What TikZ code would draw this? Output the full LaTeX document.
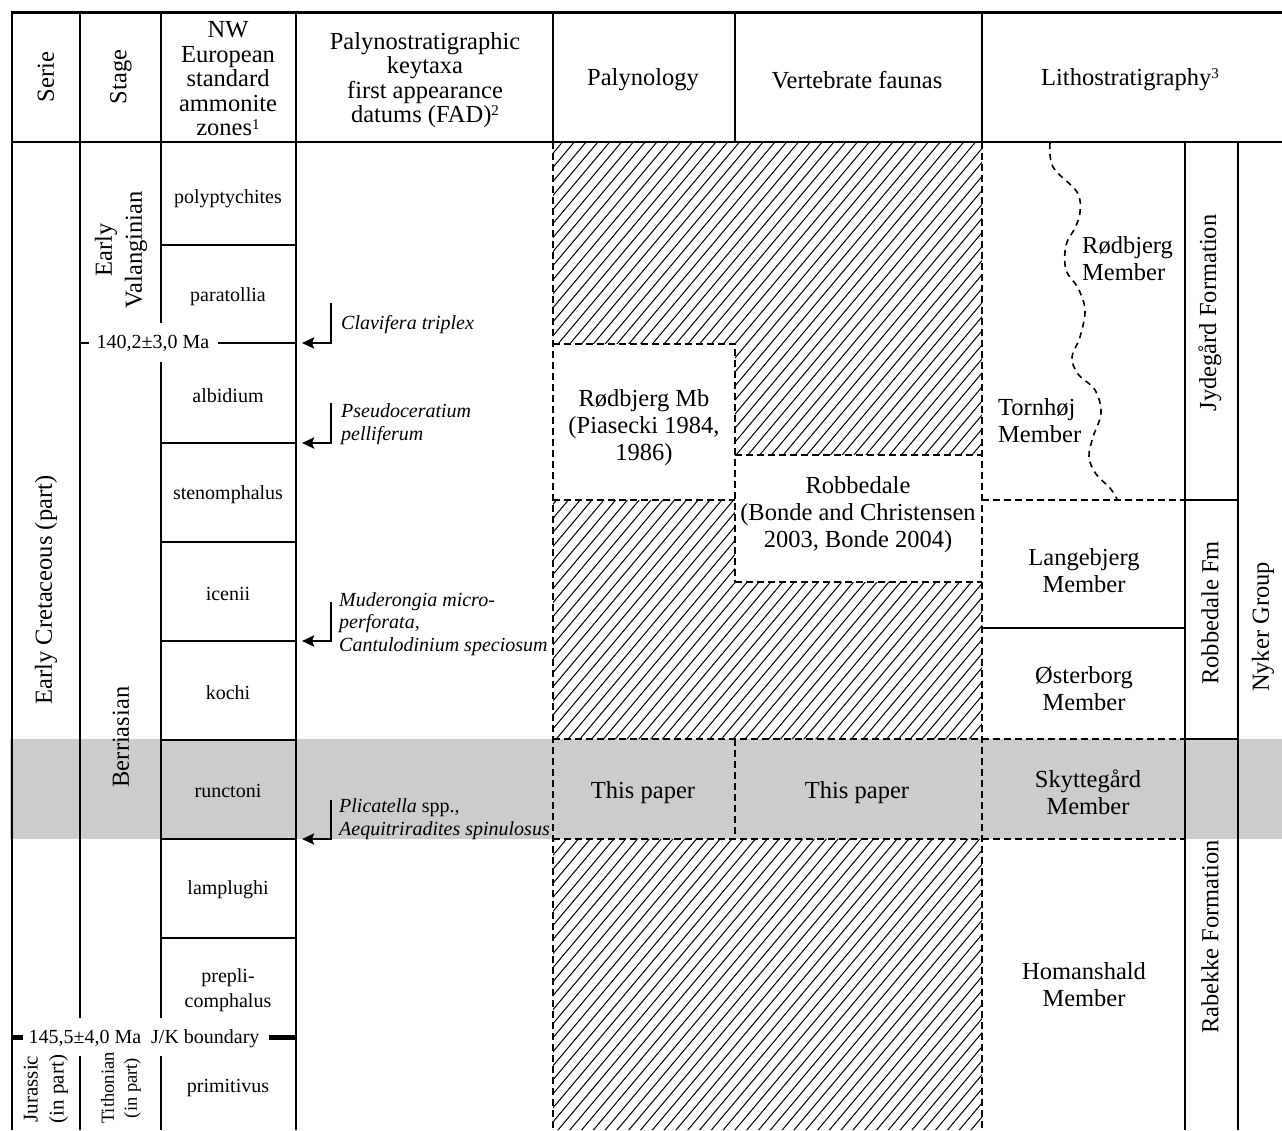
\documentclass[tikz,border=0pt]{standalone}
\usepackage{fontspec}
\setmainfont{Liberation Serif}
\usetikzlibrary{arrows.meta}
\definecolor{bandgray}{RGB}{204,204,204}
\newcommand{\lowsup}[1]{\raisebox{0.28em}{\fontsize{15}{15}\selectfont #1}}
\begin{document}
\begin{tikzpicture}[x=1pt,y=-1pt,
  hdr/.style={font=\fontsize{24.5}{24.5}\selectfont, align=center, inner sep=0pt},
  body/.style={font=\fontsize{24.5}{27}\selectfont, align=center, inner sep=0pt},
  zone/.style={font=\fontsize{20}{24.5}\selectfont, align=center, inner sep=0pt},
  fad/.style={font=\fontsize{20}{22.5}\selectfont\itshape, align=left, anchor=west, inner sep=0pt},
  topline/.style={line width=3pt},
  frameline/.style={line width=2.6pt},
  zoneline/.style={line width=2.2pt},
  midline/.style={line width=2pt},
  thinline/.style={line width=1.4pt},
  boundline/.style={line width=5pt},
  dashline/.style={line width=1.8pt, dash pattern=on 7pt off 4pt},
  waveline/.style={line width=1.6pt, dash pattern=on 6pt off 5pt},
  hatchline/.style={line width=1pt},
  arrowline/.style={line width=2.8pt, -{Stealth[length=12pt,width=11pt,inset=2pt]}}
]
\useasboundingbox (0,0) rectangle (1282,1130);
% grey band
\fill[bandgray] (10,739) rectangle (1282,839);
% hatching
\begin{scope}
  \clip (553,142) rectangle (982,739) (553,839) rectangle (982,1130);
  \foreach \k in {0,...,110} \draw[hatchline] ({-300+\k*11.8},1140) -- ++(849,-1010);
\end{scope}
\fill[white] (553,344) rectangle (735,500);
\fill[white] (735,455) rectangle (982,582);
% dashed boundaries
\draw[dashline] (553,142) -- (553,1130);
\draw[dashline] (982,142) -- (982,1130);
\draw[dashline] (553,344) -- (735,344) -- (735,582);
\draw[dashline] (553,500) -- (735,500);
\draw[dashline] (735,455) -- (982,455);
\draw[dashline] (735,582) -- (982,582);
\draw[dashline] (553,739) -- (1185,739);
\draw[dashline] (553,839) -- (1185,839);
\draw[dashline] (735,739) -- (735,839);
\draw[dashline] (982,500) -- (1185,500);
% wavy boundary
\draw[waveline] plot[smooth, tension=0.6] coordinates {(1050,143) (1053,167) (1077,192) (1080,212) (1075,228) (1066,245) (1066,270) (1078,288) (1085,310) (1080,337) (1072,357) (1078,374) (1095,390) (1101,413) (1093,437) (1089,457) (1096,474) (1110,488) (1117,499)};
% table frame
\draw[topline] (12,12) -- (1282,12);
\draw[frameline] (12,142) -- (1282,142);
\draw[frameline] (12,10.5) -- (12,1130);
\draw[frameline] (296,10.5) -- (296,1130);
\foreach \xx in {80,161,553,735,982} \draw[frameline] (\xx,10.5) -- (\xx,142);
\draw[frameline] (80,142) -- (80,1018) (80,1056) -- (80,1130);
\draw[frameline] (161,142) -- (161,323) (161,362) -- (161,1018) (161,1056) -- (161,1130);
\draw[midline] (1185,142) -- (1185,1130);
\draw[midline] (1238,142) -- (1238,1130);
% zone boundaries
\foreach \yy in {245,443,542,641,740,839,938} \draw[zoneline] (161,\yy) -- (296,\yy);
\draw[zoneline] (80,343) -- (89,343) (218,343) -- (296,343);
\draw[boundline] (12,1037) -- (23,1037) (269,1037) -- (296,1037);
% lithostratigraphy lines
\draw[midline] (1185,500) -- (1238,500);
\draw[thinline] (982,628) -- (1185,628);
\draw[midline] (1185,739) -- (1238,739);
% headers
\node[hdr, rotate=90] (serie) at (46,77) {Serie};
\node[hdr, rotate=90] (stage) at (121,77) {Stage};
\node[hdr] (nwhead) at (228,79) {NW\\European\\standard\\ammonite\\zones\lowsup{1}};
\node[hdr] (fadhead) at (425,80) {Palynostratigraphic\\keytaxa\\first appearance\\datums (FAD)\lowsup{2}};
\node[hdr] (palyhead) at (643,80) {Palynology};
\node[hdr] (verthead) at (857,80) {Vertebrate faunas};
\node[hdr] (lithohead) at (1130,80) {Lithostratigraphy\lowsup{3}};
% serie and stage
\node[body, rotate=90] (ecret) at (46,590) {Early Cretaceous (part)};
\node[body, rotate=90, font=\fontsize{24.5}{30}\selectfont] (evalang) at (121,250) {Early\\Valanginian};
\node[body, rotate=90] (berr) at (121,737) {Berriasian};
\node[rotate=90, align=center, inner sep=0pt, font=\fontsize{21}{26}\selectfont] (jur) at (46,1089) {Jurassic\\(in part)};
\node[rotate=90, align=center, inner sep=0pt, font=\fontsize{18.5}{23}\selectfont] (tith) at (121,1088) {Tithonian\\(in part)};
% ages
\node[zone] (age1) at (153,343) {140,2±3,0 Ma};
\node[zone] (age2) at (144,1039) {145,5±4,0 Ma\enspace J/K boundary};
% zones
\node[zone] (z1) at (228,199) {polyptychites};
\node[zone] (z2) at (228,297) {paratollia};
\node[zone] (z3) at (228,396) {albidium};
\node[zone] (z4) at (228,495) {stenomphalus};
\node[zone] (z5) at (228,594) {icenii};
\node[zone] (z6) at (228,693) {kochi};
\node[zone] (z7) at (228,791) {runctoni};
\node[zone] (z8) at (228,890) {lamplughi};
\node[zone] (z9) at (228,990) {prepli-\\comphalus};
\node[zone] (z10) at (228,1088) {primitivus};
% FAD arrows and taxa
\node[fad] (f1) at (341,325) {Clavifera triplex};
\node[fad] (f2) at (341,424) {Pseudoceratium\\pelliferum};
\node[fad] (f3) at (339,624) {Muderongia micro-\\perforata,\\Cantulodinium speciosum};
\node[fad] (f4) at (339,819) {Plicatella \upshape spp.,\\Aequitriradites spinulosus};
\coordinate (a1s) at (331,303); \coordinate (a1e) at (302,343);
\coordinate (a2s) at (331,403); \coordinate (a2e) at (302,443);
\coordinate (a3s) at (331,602); \coordinate (a3e) at (302,641);
\coordinate (a4s) at (331,800); \coordinate (a4e) at (302,839);
\draw[arrowline] (a1s) |- (a1e);
\draw[arrowline] (a2s) |- (a2e);
\draw[arrowline] (a3s) |- (a3e);
\draw[arrowline] (a4s) |- (a4e);
% palynology / vertebrates
\node[body] (rodmb) at (644,428) {Rødbjerg Mb\\(Piasecki 1984,\\1986)};
\node[body] (robbe) at (858,515) {Robbedale\\(Bonde and Christensen\\2003, Bonde 2004)};
\node[body] (tp1) at (643,793) {This paper};
\node[body] (tp2) at (857,793) {This paper};
% lithostratigraphy
\node[body, align=left, anchor=west] (rodmem) at (1082,259) {Rødbjerg\\Member};
\node[body, align=left, anchor=west] (tornmem) at (998,421) {Tornhøj\\Member};
\node[body] (langmem) at (1084,571) {Langebjerg\\Member};
\node[body] (ostmem) at (1084,689) {Østerborg\\Member};
\node[body] (skymem) at (1088,792) {Skyttegård\\Member};
\node[body] (hommem) at (1084,985) {Homanshald\\Member};
\node[body, rotate=90] (jydfm) at (1210,313) {Jydegård Formation};
\node[body, rotate=90] (robfm) at (1210,613) {Robbedale Fm};
\node[body, rotate=90] (rabfm) at (1210,937) {Rabekke Formation};
\node[body, rotate=90] (nyker) at (1263,627) {Nyker Group};
\end{tikzpicture}
\end{document}
